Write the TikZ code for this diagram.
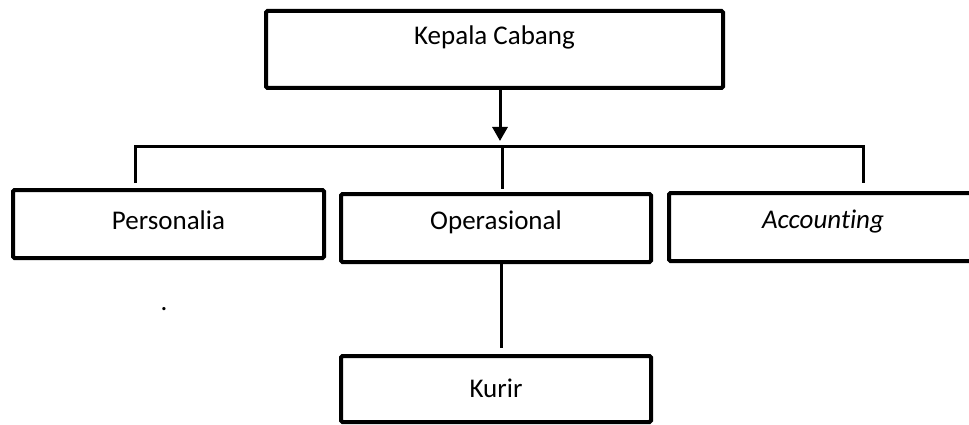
\documentclass[tikz,border=0pt]{standalone}
\usepackage{fontspec}
\setmainfont[Ligatures={NoCommon}]{Carlito}
\usetikzlibrary{arrows.meta}
\begin{document}
\begin{tikzpicture}[x=1pt,y=-1pt,
  box/.style={draw, line width=4pt, rounded corners=1.5pt, inner sep=0pt},
  lbl/.style={font=\fontsize{27}{31}\selectfont},
  conn/.style={line width=3pt}]
\useasboundingbox (0,0) rectangle (969,425);
% boxes
\node[box, minimum width=457pt, minimum height=77pt, label={[lbl,yshift=12pt]center:Kepala Cabang}] (kc) at (494.5,49.5) {};
\node[box, minimum width=311pt, minimum height=68pt, label={[lbl,yshift=4pt]center:Personalia}] (pers) at (168.5,224) {};
\node[box, minimum width=310pt, minimum height=68pt, label={[lbl,yshift=6pt]center:Operasional}] (ops) at (496,228) {};
\node[box, minimum width=306pt, minimum height=68pt] (acc) at (822,227) {};
\node[lbl] (acct) at (823,222) {\itshape Accounting};
\node[box, minimum width=310pt, minimum height=66pt, label={[lbl,yshift=1pt]center:Kurir}] (kur) at (496,389) {};
\node[lbl, inner sep=0pt] (dot) at (164,309) {.};
% connectors
\coordinate (bus) at (500,147);
\coordinate (busL) at (135,147);
\coordinate (busR) at (863,147);
\coordinate (tipL) at (135,183);
\coordinate (tipR) at (863,183);
\coordinate (tipM) at (502,189);
\coordinate (arrEnd) at (500,141);
\coordinate (kurTop) at (501,348);
\draw[conn, -{Triangle[width=15pt,length=14pt]}] (kc.south -| arrEnd) -- (arrEnd);
\draw[conn] (tipL) -- (busL) -- (busR) -- (tipR);
\draw[conn] (502,147) -- (tipM);
\draw[conn] (ops.south -| kurTop) -- (kurTop);
\end{tikzpicture}
\end{document}
